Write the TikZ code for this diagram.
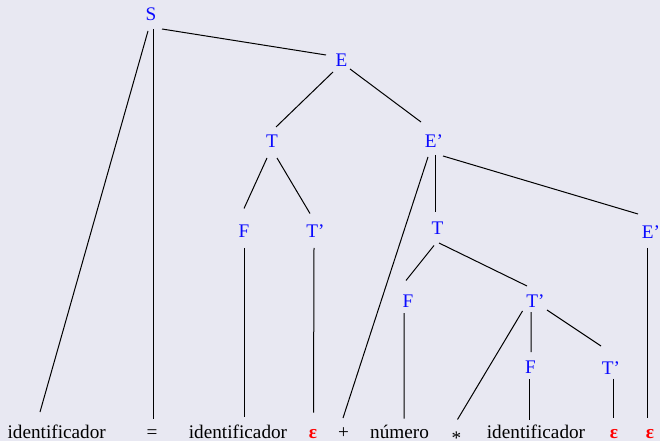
\documentclass[tikz,border=0pt]{standalone}
\usepackage{fontspec}
\setmainfont{Liberation Serif}
\newfontfamily\treefont{Liberation Serif}
\usetikzlibrary{calc}
\definecolor{bgcol}{RGB}{232,232,242}
\definecolor{ntcol}{RGB}{10,10,255}
\definecolor{epscol}{RGB}{255,0,0}
\newcommand{\treeedge}[6]{\draw[edge] ($(#1.base)+(#2,#3)$) -- ($(#4.base)+(#5,#6)$);}
\begin{document}
\begin{tikzpicture}[x=1bp,y=-1bp,
  lbl/.style={anchor=base,inner sep=0pt,font=\treefont\fontsize{19.3}{23}\selectfont},
  nt/.style={lbl,text=ntcol},
  tm/.style={lbl,text=black},
  eps/.style={lbl,text=epscol,font=\treefont\bfseries\fontsize{19.3}{23}\selectfont},
  edge/.style={draw=black,line width=1bp}]
\fill[bgcol] (0,0) rectangle (660,441);
\useasboundingbox (0,0) rectangle (660,441);
% nonterminals
\node[nt] (S)   at (151,21)   {S};
\node[nt] (E)   at (341.5,67) {E};
\node[nt] (T1)  at (272,148)  {T};
\node[nt] (Ep1) at (434,148)  {E’};
\node[nt] (F1)  at (244,238)  {F};
\node[nt] (Tp1) at (315.5,238){T’};
\node[nt] (T2)  at (437.5,235){T};
\node[nt] (Ep2) at (651,239)  {E’};
\node[nt] (F2)  at (408,308)  {F};
\node[nt] (Tp2) at (535.5,308){T’};
\node[nt] (F3)  at (530.5,373){F};
\node[nt] (Tp3) at (611,374)  {T’};
% leaves
\node[tm] (id1)  at (56.7,438.5) {identificador};
\node[tm] (eq)   at (152,438.5)  {=};
\node[tm] (id2)  at (238,438.5)  {identificador};
\node[eps] (eps1) at (313,438.5) {ε};
\node[tm] (plus) at (343.5,438.5) {+};
\node[tm] (num)  at (399.5,438.5) {número};
\node[tm] (star) at (456.5,438.5) {\raisebox{-6bp}{*}};
\node[tm] (id3)  at (536,438.5)  {identificador};
\node[eps] (eps2) at (614,438.5) {ε};
\node[eps] (eps3) at (650,438.5) {ε};
% connectors
\treeedge{S}{-3}{10}{id1}{-16.7}{-26.5}
\treeedge{S}{2}{8}{eq}{1}{-19.5}
\treeedge{S}{11}{8}{E}{-15.5}{-12}
\treeedge{E}{-8.5}{5}{T1}{4}{-21}
\treeedge{E}{8.5}{2}{Ep1}{-13}{-26}
\treeedge{T1}{-5}{10}{F1}{0}{-29.5}
\treeedge{T1}{5}{10}{Tp1}{-5.5}{-24.5}
\treeedge{F1}{0}{10}{id2}{6}{-22}
\treeedge{Tp1}{-1.5}{10}{eps1}{0.5}{-26}
\treeedge{Ep1}{-6}{9}{plus}{-0.5}{-20.5}
\treeedge{Ep1}{1}{7}{T2}{-2.5}{-23}
\treeedge{Ep1}{9}{8}{Ep2}{-13}{-25}
\treeedge{T2}{-3.5}{10.5}{F2}{-2}{-27.5}
\treeedge{T2}{1.5}{8}{Tp2}{-8.5}{-22}
\treeedge{Tp2}{-13}{3}{star}{1}{-19}
\treeedge{Tp2}{-4.5}{4}{F3}{0.5}{-21}
\treeedge{Tp2}{11.5}{2}{Tp3}{-10}{-28}
\treeedge{F2}{-4}{5}{num}{4.5}{-20}
\treeedge{F3}{-1.5}{6}{id3}{-7}{-19}
\treeedge{Tp3}{2}{4.5}{eps2}{-1}{-20.5}
\treeedge{Ep2}{-4}{9}{eps3}{-3}{-21}
\end{tikzpicture}
\end{document}
